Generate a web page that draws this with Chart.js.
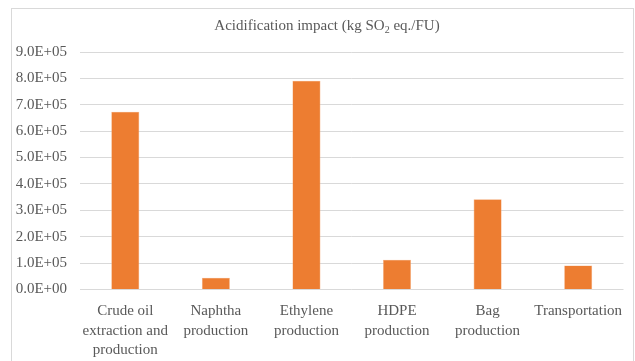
<!DOCTYPE html>
<html>
<head>
<meta charset="utf-8">
<script src="https://cdn.jsdelivr.net/npm/chart.js@4/dist/chart.umd.min.js"></script>
<style>
  html, body { margin: 0; padding: 0; background: #fff; }
  #wrap { width: 635px; height: 361px; position: relative; }
</style>
</head>
<body>
<div id="wrap"><canvas id="c"></canvas></div>
<script>
// Life-cycle stages of the bag and their acidification impact
const categories = [
  ["Crude oil", "extraction and", "production"],
  ["Naphtha", "production"],
  ["Ethylene", "production"],
  ["HDPE", "production"],
  ["Bag", "production"],
  ["Transportation"]
];
const acidification = [674000, 45000, 791000, 113000, 342000, 91000];
const yTicks = [0, 100000, 200000, 300000, 400000, 500000, 600000, 700000, 800000, 900000];

const SERIF = "'Liberation Serif', 'Times New Roman', serif";
const TEXT = '#595959';

// Frame around the chart and a title with a subscripted "2"
const decor = {
  id: 'decor',
  beforeDraw(chart) {
    const ctx = chart.ctx;
    ctx.save();
    ctx.strokeStyle = '#d9d9d9';
    ctx.lineWidth = 1;
    ctx.strokeRect(11.5, 8.5, 622, 360);
    ctx.restore();
  },
  afterDraw(chart) {
    const ctx = chart.ctx;
    ctx.save();
    ctx.fillStyle = TEXT;
    ctx.textBaseline = 'alphabetic';
    const big = '15px ' + SERIF, small = '10px ' + SERIF;
    const a = 'Acidification impact (kg SO', b = '2', c = ' eq./FU)';
    ctx.font = big; const wa = ctx.measureText(a).width, wc = ctx.measureText(c).width;
    ctx.font = small; const wb = ctx.measureText(b).width;
    const total = wa + wb + wc;
    let x = 327 - total / 2;
    const y = 30;
    ctx.font = big; ctx.fillText(a, x, y); x += wa;
    ctx.font = small; ctx.fillText(b, x, y + 3); x += wb;
    ctx.font = big; ctx.fillText(c, x, y);
    ctx.restore();
  }
};

new Chart(document.getElementById('c'), {
  type: 'bar',
  data: {
    labels: categories,
    datasets: [{
      data: acidification,
      backgroundColor: '#ED7D31',
      borderColor: '#F4B183',
      borderWidth: 0.6,
      categoryPercentage: 1,
      barPercentage: 0.31
    }]
  },
  options: {
    responsive: true,
    maintainAspectRatio: false,
    animation: false,
    devicePixelRatio: 1,
    layout: { padding: { left: 11, right: 11, top: 52, bottom: 0 } },
    plugins: { legend: { display: false }, title: { display: false }, tooltip: { enabled: false } },
    scales: {
      x: {
        grid: { display: false, drawTicks: false },
        border: { display: false },
        ticks: {
          color: TEXT,
          font: { family: SERIF, size: 15, lineHeight: 1.3 },
          padding: 12,
          maxRotation: 0,
          autoSkip: false
        },
        afterFit(scale) { scale.height = 71.5; }
      },
      y: {
        min: 0,
        max: 900000,
        afterBuildTicks(scale) { scale.ticks = yTicks.map(v => ({ value: v })); },
        grid: { color: '#d9d9d9', lineWidth: 1, drawTicks: false },
        border: { display: false },
        ticks: {
          color: TEXT,
          font: { family: SERIF, size: 15 },
          padding: 13,
          callback(v) {
            const e = v === 0 ? 0 : Math.floor(Math.log10(v));
            const m = v === 0 ? 0 : v / Math.pow(10, e);
            return m.toFixed(1) + 'E+' + String(e).padStart(2, '0');
          }
        },
        afterFit(scale) { scale.width = 69; }
      }
    }
  },
  plugins: [decor]
});
</script>
</body>
</html>
